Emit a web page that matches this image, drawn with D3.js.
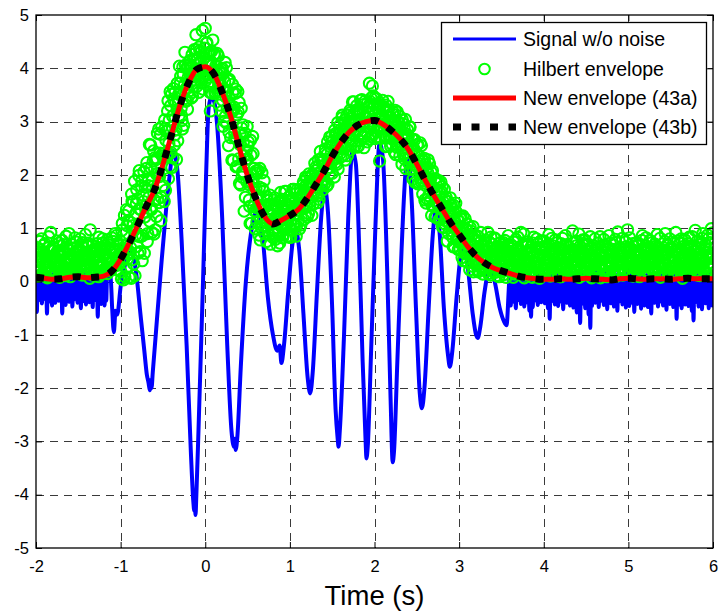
<!DOCTYPE html>
<html>
<head>
<meta charset="utf-8">
<script src="https://cdn.jsdelivr.net/npm/d3@7/dist/d3.min.js"></script>
<style>
  body { margin: 0; background: #fff; }
  svg { display: block; font-family: "Liberation Sans", Arial, sans-serif; }
</style>
</head>
<body>
<svg id="chart" width="719" height="612"></svg>
<script>
// ---- axis ticks ----
const xTicks = [-2, -1, 0, 1, 2, 3, 4, 5, 6];
const xTickLabels = ["-2", "-1", "0", "1", "2", "3", "4", "5", "6"];
const yTicks = [-5, -4, -3, -2, -1, 0, 1, 2, 3, 4, 5];
const yTickLabels = ["-5", "-4", "-3", "-2", "-1", "0", "1", "2", "3", "4", "5"];
const xTitle = "Time (s)";
const legendLabels = ["Signal w/o noise", "Hilbert envelope", "New envelope (43a)", "New envelope (43b)"];

// ---- new envelope (43a / 43b), sampled every 0.1 s from -2 s ----
const envelopeStart = -2, envelopeStep = 0.1;
const newEnvelope = [
  0.08, 0.06, 0.04, 0.05, 0.08, 0.09, 0.07, 0.08, 0.10, 0.20,
  0.42, 0.72, 1.05, 1.40, 1.72, 2.20, 2.75, 3.30, 3.72, 3.98,
  4.03, 3.90, 3.55, 3.10, 2.52, 1.98, 1.55, 1.22, 1.08, 1.15,
  1.24, 1.35, 1.55, 1.80, 2.06, 2.35, 2.60, 2.80, 2.93, 3.00,
  3.02, 2.95, 2.83, 2.68, 2.48, 2.20, 1.90, 1.62, 1.36, 1.10,
  0.88, 0.66, 0.48, 0.35, 0.26, 0.20, 0.15, 0.10, 0.07, 0.05,
  0.04, 0.04, 0.05, 0.04, 0.05, 0.06, 0.05, 0.04, 0.03, 0.05,
  0.06, 0.05, 0.04, 0.05, 0.05, 0.04, 0.05, 0.06, 0.05, 0.05,
  0.05
];

// ---- Hilbert envelope, samples at -2 s + k*0.01 s ----
const hilbertStart = -2, hilbertStep = 0.01;
const hilbertEnvelope = [
  0.40,0.17,0.63,0.27,0.75,0.46,0.13,0.55,0.33,0.68,
  0.22,0.50,0.09,0.42,0.29,0.84,0.36,0.18,0.59,0.46,
  0.64,0.31,0.48,0.14,0.40,0.56,0.24,0.72,0.08,0.35,
  0.29,0.77,0.20,0.53,0.38,0.11,0.63,0.45,0.24,0.90,
  0.52,0.16,0.37,0.69,0.24,0.46,0.82,0.33,0.57,0.20,
  0.36,0.61,0.27,0.14,0.50,0.73,0.41,0.18,0.54,0.44,
  0.28,0.66,0.15,0.43,0.97,0.31,0.58,0.12,0.47,0.24,
  0.55,0.20,0.71,0.38,0.09,0.49,0.26,0.64,0.35,0.80,
  0.30,0.62,0.19,0.52,0.78,0.25,0.44,0.68,0.21,0.57,
  0.40,0.75,0.28,0.58,0.35,0.86,0.47,0.31,0.69,0.52,
  0.61,0.05,1.09,0.43,0.89,0.09,0.68,1.35,0.42,1.14,
  0.08,1.11,0.63,1.64,0.41,1.49,0.96,0.11,1.28,1.72,
  1.55,0.85,2.08,0.56,1.35,1.89,0.86,1.50,0.53,1.77,
  1.30,2.23,0.90,1.80,2.57,1.36,2.13,0.92,1.78,2.45,
  2.32,0.97,2.02,2.30,1.55,2.86,1.97,2.76,1.58,2.39,
  1.80,2.40,3.03,1.71,2.82,2.36,3.39,2.59,2.16,3.30,
  3.51,2.90,2.32,3.39,2.75,3.35,2.29,3.72,3.37,3.11,
  3.54,3.85,3.11,2.86,3.89,3.57,4.30,3.38,4.00,3.23,
  3.84,3.50,4.15,3.75,4.04,3.47,3.93,4.35,3.78,4.63,
  3.66,4.16,3.91,4.40,3.78,4.30,4.02,3.61,4.18,4.38,
  4.75,3.90,4.48,3.69,4.06,4.30,3.20,4.04,3.53,4.53,
  3.85,4.27,3.55,3.95,4.28,3.63,3.96,3.31,3.68,3.97,
  4.00,2.91,3.61,3.75,3.10,4.01,3.25,3.77,2.80,3.33,
  2.70,3.18,3.70,2.27,3.27,2.69,3.61,2.69,2.16,3.18,
  3.36,2.57,1.81,2.88,2.06,2.61,1.32,2.78,2.29,1.87,
  2.30,2.62,1.53,1.09,2.37,1.85,2.72,1.40,2.12,0.99,
  1.74,1.12,2.09,1.37,1.77,0.78,1.43,2.04,1.05,1.70,
  0.90,1.39,1.11,1.59,0.94,1.45,1.16,0.70,1.26,1.44,
  1.33,0.96,1.57,0.79,1.17,1.43,0.91,1.21,0.72,1.67,
  1.08,1.54,0.87,1.31,1.69,1.08,1.46,0.85,1.26,1.59,
  1.52,0.83,1.34,1.47,1.08,1.73,1.27,1.65,1.05,1.44,
  1.13,1.42,1.73,1.06,1.61,1.37,1.87,1.46,1.24,1.80,
  1.94,1.60,1.27,1.86,1.50,1.83,1.24,2.02,1.83,1.67,
  1.94,2.15,1.65,1.48,2.17,1.96,2.44,1.83,2.24,1.72,
  2.17,1.83,2.49,2.09,2.39,1.82,2.28,2.71,2.14,2.60,
  2.03,2.56,2.32,2.84,2.23,2.78,2.52,2.11,2.70,2.93,
  2.85,2.50,3.12,2.36,2.76,3.03,2.52,2.84,2.36,2.98,
  2.75,3.21,2.55,2.99,3.37,2.77,3.15,2.54,2.97,3.30,
  3.23,2.54,3.04,3.17,2.78,3.41,2.95,3.32,2.72,3.11,
  2.80,3.07,3.36,2.67,3.72,2.95,3.44,3.01,2.77,3.32,
  3.44,3.06,2.71,3.27,2.89,3.19,2.26,3.30,3.06,2.88,
  3.11,3.28,2.75,2.53,3.18,2.93,3.38,2.73,3.09,2.54,
  2.95,2.57,3.18,2.74,2.99,2.38,2.79,3.18,2.56,2.98,
  2.36,2.84,2.56,3.03,2.38,2.88,2.58,2.12,2.67,2.85,
  2.73,2.33,2.90,2.10,2.45,2.67,2.11,2.38,1.86,2.43,
  2.15,2.57,1.86,2.26,2.60,1.95,2.29,1.64,2.02,2.31,
  2.20,1.47,1.94,2.04,1.61,2.21,1.71,2.05,1.42,1.77,
  1.42,1.66,1.93,1.21,1.72,1.43,1.89,1.44,1.17,1.69,
  1.78,1.38,1.01,1.54,1.14,1.41,0.76,1.50,1.25,1.05,
  1.26,1.42,0.88,0.65,1.29,1.03,1.47,0.81,1.16,0.60,
  1.00,0.61,1.22,0.76,1.01,0.39,0.80,1.18,0.55,0.96,
  0.36,0.82,0.54,1.02,0.37,0.87,0.57,0.18,0.67,0.85,
  0.62,0.30,0.85,0.21,0.53,0.74,0.26,0.58,0.14,0.66,
  0.44,0.78,0.20,0.56,0.92,0.31,0.63,0.12,0.48,0.70,
  0.35,0.59,0.17,0.80,0.41,0.25,0.66,0.09,0.52,0.73,
  0.28,0.62,0.44,0.13,0.77,0.36,0.55,0.21,0.86,0.40,
  0.47,0.19,0.68,0.33,0.08,0.57,0.26,0.79,0.40,0.15,
  0.61,0.29,0.45,0.92,0.18,0.52,0.36,0.07,0.70,0.24,
  0.39,0.74,0.13,0.55,0.30,0.65,0.21,0.48,0.83,0.34,
  0.11,0.58,0.27,0.71,0.42,0.06,0.50,0.31,0.64,0.23,
  0.76,0.35,0.16,0.60,0.44,0.25,0.88,0.38,0.10,0.53,
  0.28,0.67,0.41,0.14,0.56,0.32,0.73,0.20,0.47,0.62,
  0.09,0.43,0.81,0.26,0.59,0.37,0.17,0.69,0.30,0.50,
  0.64,0.22,0.49,0.34,0.95,0.40,0.12,0.57,0.27,0.75,
  0.33,0.54,0.08,0.66,0.21,0.45,0.78,0.29,0.51,0.16,
  0.70,0.38,0.24,0.58,0.13,0.84,0.42,0.31,0.63,0.19,
  0.46,0.11,0.61,0.36,0.72,0.25,0.53,0.07,0.44,0.67,
  0.23,0.79,0.32,0.50,0.15,0.60,0.39,0.86,0.27,0.48,
  0.57,0.30,0.69,0.18,0.43,0.74,0.10,0.52,0.35,0.62,
  0.14,0.48,0.26,0.81,0.37,0.56,0.22,0.65,0.41,0.97,
  0.38,0.63,0.19,0.45,0.29,0.71,0.51,0.12,0.58,0.33,
  0.68,0.24,0.54,0.09,0.47,0.36,0.77,0.28,0.60,0.42,
  0.31,0.82,0.40,0.20,0.64,0.13,0.55,0.44,0.73,0.25,
  0.52,0.17,0.66,0.39,0.88,0.27,0.46,0.61,0.08,0.49,
  0.26,0.59,0.34,0.75,0.14,0.50,0.69,0.21,0.43,0.80,
  0.62,0.11,0.47,0.28,0.57,0.38,0.92,0.32,0.16,0.54,
  0.43,0.71,0.25,0.60,0.06,0.49,0.35,0.78,0.27,0.65,
  0.18,0.52,0.83,0.30,0.45,0.67,0.22,0.56,0.39,0.96,
  0.58,0.34,0.12,0.63,0.41,0.27,0.74,0.48,0.90,0.20,
  0.37,0.69,0.46,0.15,0.55,0.81,0.29,0.62,0.99,0.44,
  0.52
];

// ---- Hilbert envelope, in-between samples at -1.995 s + k*0.01 s ----
const hilbertMidStart = -1.995;
const hilbertEnvelopeMid = [
  0.26,0.52,0.10,0.61,0.37,0.21,0.80,0.43,0.15,0.56,
  0.71,0.34,0.49,0.07,0.63,0.28,0.45,0.92,0.19,0.40,
  0.32,0.58,0.16,0.44,0.76,0.25,0.53,0.11,0.67,0.30,
  0.48,0.13,0.69,0.35,0.22,0.85,0.41,0.17,0.59,0.38,
  0.09,0.44,0.27,0.62,0.51,0.18,0.36,0.74,0.29,0.66,
  0.57,0.23,0.80,0.42,0.12,0.64,0.31,0.49,0.88,0.21,
  0.40,0.72,0.34,0.06,0.55,0.25,0.68,0.45,0.19,0.61,
  0.16,0.47,0.60,0.27,0.83,0.39,0.13,0.57,0.72,0.33,
  0.50,0.24,0.67,0.41,0.15,0.73,0.36,0.58,0.27,0.82,
  0.63,0.29,0.51,0.90,0.38,0.22,0.70,0.45,0.33,0.76,
  0.18,0.96,0.61,0.03,1.24,0.57,0.25,1.05,0.53,1.33,
  1.12,0.55,0.06,1.50,1.05,0.33,1.88,0.87,1.46,0.66,
  0.53,1.99,1.36,0.84,1.79,0.39,1.62,2.06,1.21,1.41,
  2.12,0.75,1.90,1.58,1.13,2.56,1.35,1.90,2.26,0.89,
  1.52,2.29,1.22,2.78,2.03,1.48,2.41,1.14,2.90,2.35,
  2.32,1.50,2.87,2.65,2.34,3.20,1.93,3.03,3.56,2.42,
  2.14,3.10,3.62,2.56,3.55,2.85,3.22,2.64,3.51,4.04,
  3.72,3.25,3.02,4.03,2.93,3.69,4.06,3.62,3.40,4.04,
  3.57,4.07,3.85,3.44,4.26,3.85,3.66,4.16,3.85,4.35,
  4.18,3.89,3.55,4.33,4.10,3.73,4.71,3.99,4.27,3.85,
  3.77,4.47,4.12,3.83,4.28,3.55,4.13,4.32,3.87,3.93,
  4.26,3.53,4.05,3.84,3.56,4.23,3.57,3.80,3.92,3.19,
  3.40,3.90,3.01,4.11,3.46,2.97,3.58,2.55,3.79,3.30,
  3.22,2.28,3.54,3.21,2.79,3.53,2.15,3.13,3.56,2.30,
  1.84,2.79,3.25,1.96,2.94,2.05,2.36,1.58,2.45,2.91,
  2.54,1.82,1.41,2.65,1.09,2.01,2.40,1.72,1.32,2.07,
  1.31,2.03,1.61,0.87,2.12,1.39,1.00,1.74,1.16,1.89,
  1.42,1.11,0.75,1.52,1.26,0.87,1.62,1.08,1.35,0.91,
  0.82,1.53,1.20,0.93,1.39,0.67,1.28,1.48,1.05,1.14,
  1.51,0.82,1.38,1.21,0.98,1.69,1.08,1.35,1.52,0.83,
  1.14,1.51,0.96,1.73,1.34,1.05,1.50,0.85,1.72,1.44,
  1.41,0.99,1.67,1.55,1.39,1.81,1.16,1.70,1.96,1.39,
  1.21,1.74,2.02,1.43,1.97,1.58,1.78,1.45,1.93,2.22,
  2.08,1.77,1.61,2.28,1.54,2.05,2.30,2.00,1.85,2.27,
  1.91,2.41,2.20,1.79,2.62,2.21,2.02,2.53,2.22,2.73,
  2.55,2.28,1.96,2.77,2.55,2.20,2.98,2.49,2.79,2.40,
  2.34,3.07,2.76,2.50,2.98,2.28,2.90,3.12,2.70,2.80,
  3.16,2.47,3.05,2.88,2.65,3.37,2.76,3.03,3.21,2.52,
  2.83,3.19,2.64,3.40,3.00,2.71,3.17,2.51,3.38,3.09,
  3.06,2.62,3.28,3.14,2.97,3.37,2.71,3.67,3.48,2.88,
  2.68,3.17,3.43,2.81,3.32,2.90,3.07,2.69,3.14,3.40,
  3.23,2.88,2.69,3.31,2.54,3.01,3.22,2.89,2.69,3.08,
  2.68,3.14,2.88,2.43,3.21,2.76,2.52,2.99,2.63,3.10,
  2.88,2.56,2.20,2.96,2.70,2.30,3.04,2.50,2.76,2.32,
  2.22,2.90,2.54,2.24,2.67,1.92,2.49,2.66,2.20,2.25,
  2.56,1.83,2.36,2.15,1.88,2.55,1.90,2.13,2.26,1.53,
  1.80,2.13,1.54,2.28,1.85,1.52,1.93,1.24,2.08,1.75,
  1.68,1.21,1.85,1.68,1.48,1.85,1.16,1.66,1.87,1.25,
  1.02,1.49,1.73,1.08,1.58,1.13,1.28,0.90,1.33,1.57,
  1.38,1.02,0.82,1.43,0.65,1.11,1.31,0.97,0.76,1.14,
  0.73,1.18,0.92,0.45,1.23,0.77,0.53,0.99,0.62,1.08,
  0.86,0.54,0.22,0.95,0.69,0.29,1.03,0.49,0.76,0.32,
  0.41,0.77,0.18,0.60,0.35,0.92,0.47,0.24,0.70,0.39,
  0.58,0.25,0.66,0.38,0.15,0.74,0.29,0.83,0.42,0.19,
  0.47,0.82,0.30,0.62,0.11,0.55,0.36,0.71,0.23,0.64,
  0.18,0.51,0.73,0.32,0.60,0.08,0.45,0.69,0.26,0.57,
  0.30,0.62,0.22,0.51,0.74,0.14,0.45,0.60,0.27,0.83,
  0.42,0.16,0.57,0.34,0.68,0.25,0.89,0.40,0.12,0.53,
  0.66,0.24,0.43,0.19,0.59,0.37,0.08,0.72,0.46,0.28,
  0.35,0.80,0.48,0.21,0.62,0.30,0.76,0.15,0.54,0.41,
  0.20,0.49,0.64,0.31,0.13,0.70,0.42,0.56,0.26,0.81,
  0.55,0.12,0.36,0.78,0.27,0.46,0.19,0.63,0.39,0.09,
  0.71,0.33,0.58,0.22,0.44,0.86,0.29,0.52,0.14,0.65,
  0.25,0.47,0.17,0.60,0.36,0.73,0.48,0.20,0.67,0.38,
  0.52,0.89,0.41,0.27,0.63,0.11,0.55,0.35,0.78,0.44,
  0.17,0.56,0.70,0.39,0.28,0.61,0.07,0.49,0.23,0.58,
  0.80,0.32,0.44,0.19,0.65,0.40,0.84,0.30,0.57,0.13,
  0.46,0.21,0.68,0.55,0.09,0.37,0.62,0.18,0.72,0.34,
  0.27,0.60,0.14,0.44,0.79,0.31,0.53,0.93,0.22,0.48,
  0.63,0.36,0.55,0.12,0.48,0.20,0.74,0.39,0.58,0.16,
  0.44,0.82,0.28,0.61,0.35,0.10,0.66,0.24,0.50,0.73,
  0.19,0.47,0.71,0.33,0.58,0.25,0.86,0.42,0.13,0.55,
  0.67,0.28,0.51,0.16,0.40,0.77,0.33,0.62,0.21,0.46,
  0.35,0.70,0.22,0.57,0.13,0.64,0.38,0.81,0.47,0.26,
  0.59,0.15,0.45,0.90,0.31,0.55,0.20,0.68,0.37,0.12,
  0.24,0.63,0.36,0.72,0.48,0.17,0.59,0.29,0.76,0.41,
  0.52,0.28,0.80,0.39,0.21,0.66,0.44,0.14,0.58,0.33,
  0.71,0.37,0.15,0.61,0.26,0.84,0.48,0.31,0.64,0.20,
  0.29,0.76,0.43,0.54,0.11,0.69,0.35,0.81,0.25,0.57,
  0.62,0.18,0.50,0.87,0.34,0.45,0.73,0.23,0.48,0.91
];

// ---- signal: quiet lead-in, sampled every 0.01 s from -2 s ----
const signalLeadStart = -2, signalStep = 0.01;
const signalLead = [
  0.15,-0.57,0.08,-0.35,0.18,-0.22,0.05,-0.41,0.12,-0.28,
  0.20,-0.33,0.02,-0.60,0.10,-0.25,0.16,-0.38,0.07,-0.45,
  0.13,-0.30,0.22,-0.40,0.04,-0.19,0.11,-0.36,0.17,-0.27,
  0.06,-0.60,0.14,-0.32,0.09,-0.44,0.19,-0.21,0.03,-0.38,
  0.15,-0.29,0.08,-0.47,0.20,-0.34,0.10,-0.24,0.05,-0.40,
  0.17,-0.31,0.12,-0.50,0.06,-0.27,0.21,-0.37,0.09,-0.43,
  0.14,-0.23,0.04,-0.39,0.18,-0.30,0.11,-0.48,0.07,-0.35,
  0.16,-0.26,0.10,-0.66,0.13,-0.33,0.05,-0.42,0.20,-0.28,
  0.12,-0.45,0.08,-0.36,0.15
];

// ---- signal: oscillating burst, turning points (time, value) ----
const signalBurstTime = [
  -1.12,-1.10,-1.08,-1.06,-1.04,-1.00,-0.95,-0.88,-0.82,-0.76,
  -0.72,-0.69,-0.67,-0.655,-0.645,-0.635,-0.62,-0.58,-0.52,-0.46,
  -0.42,-0.38,-0.33,-0.28,-0.22,-0.17,-0.14,-0.13,-0.125,-0.115,
  -0.105,-0.08,-0.03,0.01,0.04,0.07,0.10,0.14,0.20,0.26,
  0.31,0.34,0.35,0.36,0.38,0.42,0.48,0.55,0.62,0.68,
  0.74,0.80,0.85,0.88,0.90,0.93,0.98,1.03,1.07,1.11,
  1.16,1.21,1.24,1.27,1.32,1.37,1.41,1.45,1.50,1.54,
  1.565,1.575,1.59,1.64,1.69,1.74,1.78,1.82,1.86,1.895,
  1.905,1.92,1.96,2.01,2.06,2.10,2.15,2.19,2.215,2.23,
  2.27,2.32,2.37,2.40,2.44,2.49,2.535,2.56,2.59,2.64,
  2.69,2.73,2.77,2.82,2.87,2.89,2.92,2.97,3.02,3.06,
  3.10,3.16,3.20,3.22,3.25,3.30,3.36,3.42,3.48,3.53,
  3.56
];
const signalBurstValue = [
  0.12,-0.5,-0.95,-0.55,-0.62,-0.1,0.3,0.55,0.2,-0.7,
  -1.3,-1.75,-1.9,-2.04,-1.85,-2.0,-1.7,-0.9,0.3,1.4,
  2.0,2.45,2.1,0.8,-1.2,-3.2,-4.15,-4.3,-4.1,-4.38,
  -4.0,-2.8,-0.2,2.0,3.25,3.45,3.4,2.95,1.2,-1.2,
  -2.8,-3.1,-2.95,-3.16,-2.9,-1.6,0.0,1.0,1.35,0.8,
  -0.3,-1.0,-1.3,-1.2,-1.53,-1.2,-0.2,0.7,0.95,0.6,
  -0.6,-1.8,-2.1,-1.7,-0.2,1.2,1.75,1.3,-0.5,-2.4,
  -2.95,-3.1,-2.8,-1.0,1.2,2.45,2.2,0.6,-1.5,-3.0,
  -3.32,-3.1,-1.3,1.0,2.6,2.3,0.2,-2.2,-3.39,-3.2,
  -1.5,0.6,2.1,2.3,1.5,-0.5,-2.1,-2.38,-2.0,-0.5,
  0.9,1.4,0.9,-0.5,-1.4,-1.6,-1.3,-0.3,0.5,0.65,
  0.3,-0.6,-1.0,-1.06,-0.85,-0.2,0.25,0.0,-0.5,-0.75,
  -0.82
];

// ---- signal: quiet tail, sampled every 0.01 s from 3.6 s ----
const signalTailStart = 3.6;
const signalTail = [
  0.10,-0.45,0.05,-0.30,0.15,-0.38,0.02,-0.50,0.08,-0.28,
  0.12,-0.35,0.04,-0.42,0.16,-0.25,0.07,-0.47,0.10,-0.33,
  0.05,-0.40,0.13,-0.55,0.02,-0.66,0.09,-0.48,0.03,-0.36,
  0.14,-0.29,0.06,-0.44,0.18,-0.31,0.08,-0.39,0.11,-0.26,
  0.04,-0.41,0.15,-0.34,0.07,-0.50,0.12,-0.70,0.03,-0.37,
  0.17,-0.27,0.09,-0.43,0.05,-0.32,0.14,-0.46,0.08,-0.24,
  0.11,-0.38,0.02,-0.52,0.16,-0.30,0.06,-0.40,0.13,-0.35,
  0.07,-0.45,0.18,-0.28,0.04,-0.49,0.10,-0.33,0.15,-0.58,
  0.06,-0.36,0.12,-0.78,0.03,-0.42,0.14,-0.30,0.08,-0.50,
  0.16,-0.34,0.05,-0.62,0.11,-0.87,0.02,-0.46,0.13,-0.29,
  0.09,-0.40,0.17,-0.31,0.04,-0.48,0.12,-0.37,0.07,-0.26,
  0.14,-0.44,0.06,-0.33,0.19,-0.52,0.10,-0.28,0.03,-0.41,
  0.15,-0.35,0.08,-0.47,0.12,-0.30,0.05,-0.55,0.16,-0.38,
  0.07,-0.27,0.13,-0.43,0.02,-0.36,0.18,-0.49,0.09,-0.32,
  0.11,-0.46,0.04,-0.29,0.15,-0.40,0.08,-0.57,0.13,-0.34,
  0.06,-0.42,0.17,-0.30,0.10,-0.51,0.03,-0.37,0.14,-0.45,
  0.08,-0.28,0.12,-0.48,0.05,-0.35,0.16,-0.60,0.09,-0.31,
  0.14,-0.40,0.07,-0.33,0.11,-0.47,0.02,-0.38,0.18,-0.26,
  0.10,-0.45,0.05,-0.36,0.15,-0.53,0.08,-0.29,0.12,-0.42,
  0.04,-0.34,0.16,-0.48,0.09,-0.31,0.13,-0.70,0.06,-0.44,
  0.17,-0.37,0.08,-0.50,0.12,-0.28,0.03,-0.43,0.14,-0.35,
  0.07,-0.46,0.15,-0.32,0.10,-0.55,0.05,-0.73,0.11,-0.39,
  0.16,-0.30,0.04,-0.47,0.13,-0.36,0.08,-0.52,0.18,-0.34,
  0.09,-0.41,0.12,-0.29,0.06,-0.50,0.15,-0.38,0.03,-0.45,
  0.10
];

// ---- build point series ----
const signalPoints = [
  ...signalLead.map((v, i) => ({ t: signalLeadStart + i * signalStep, v })),
  ...signalBurstTime.map((t, i) => ({ t, v: signalBurstValue[i] })),
  ...signalTail.map((v, i) => ({ t: signalTailStart + i * signalStep, v }))
];
const hilbertPoints = [
  ...hilbertEnvelope.map((v, i) => ({ t: hilbertStart + i * hilbertStep, v })),
  ...hilbertEnvelopeMid.map((v, i) => ({ t: hilbertMidStart + i * hilbertStep, v }))
].sort((a, b) => a.t - b.t);
const envelopePoints = newEnvelope.map((v, i) => ({ t: envelopeStart + i * envelopeStep, v }));

// ---- layout ----
const svg = d3.select("#chart");
const plot = { left: 36, right: 713, top: 15, bottom: 548 };
const x = d3.scaleLinear().domain([-2, 6]).range([plot.left, plot.right]);
const y = d3.scaleLinear().domain([-5, 5]).range([plot.bottom, plot.top]);

svg.append("rect").attr("width", 719).attr("height", 612).attr("fill", "#fff");

svg.append("defs").append("clipPath").attr("id", "plotClip")
  .append("rect")
  .attr("x", plot.left).attr("y", plot.top)
  .attr("width", plot.right - plot.left).attr("height", plot.bottom - plot.top);

// grid
const grid = svg.append("g").attr("stroke", "#3a3a3a").attr("stroke-width", 1)
  .attr("stroke-dasharray", "8,6").attr("shape-rendering", "crispEdges");
grid.selectAll("line.gx").data(xTicks.slice(1, -1)).join("line")
  .attr("x1", d => Math.round(x(d)) + 0.5).attr("x2", d => Math.round(x(d)) + 0.5)
  .attr("y1", plot.top).attr("y2", plot.bottom);
grid.selectAll("line.gy").data(yTicks.slice(1, -1)).join("line")
  .attr("y1", d => Math.round(y(d)) + 0.5).attr("y2", d => Math.round(y(d)) + 0.5)
  .attr("x1", plot.left).attr("x2", plot.right);

// data layer
const data = svg.append("g").attr("clip-path", "url(#plotClip)");

data.append("path").datum(signalPoints)
  .attr("fill", "none").attr("stroke", "#0000ff").attr("stroke-width", 4)
  .attr("stroke-linejoin", "round")
  .attr("d", d3.line().x(d => x(d.t)).y(d => y(d.v)).curve(d3.curveMonotoneX));

data.append("g").selectAll("circle").data(hilbertPoints).join("circle")
  .attr("cx", d => x(d.t)).attr("cy", d => y(d.v)).attr("r", 5.6)
  .attr("fill", "none").attr("stroke", "#00ff00").attr("stroke-width", 2.1);

const envLine = d3.line().x(d => x(d.t)).y(d => y(d.v)).curve(d3.curveMonotoneX);
data.append("path").datum(envelopePoints)
  .attr("fill", "none").attr("stroke", "#ff0000").attr("stroke-width", 5)
  .attr("d", envLine);
data.append("path").datum(envelopePoints)
  .attr("fill", "none").attr("stroke", "#000").attr("stroke-width", 7)
  .attr("stroke-dasharray", "8,10.5")
  .attr("d", envLine);

// axes with inward ticks on all four sides
const tickLen = 6;
const axisBottom = d3.axisBottom(x).tickValues(xTicks)
  .tickFormat((d, i) => xTickLabels[i]).tickSizeInner(-tickLen).tickSizeOuter(0).tickPadding(12);
const axisLeft = d3.axisLeft(y).tickValues(yTicks)
  .tickFormat((d, i) => yTickLabels[i]).tickSizeInner(-tickLen).tickSizeOuter(0).tickPadding(7);
const axisTop = d3.axisTop(x).tickValues(xTicks).tickFormat("").tickSizeInner(-tickLen).tickSizeOuter(0);
const axisRight = d3.axisRight(y).tickValues(yTicks).tickFormat("").tickSizeInner(-tickLen).tickSizeOuter(0);

function styleAxis(g) {
  g.select(".domain").remove();
  g.selectAll(".tick line").attr("stroke", "#000").attr("stroke-width", 1);
  g.selectAll(".tick text").attr("fill", "#000")
    .style("font-family", '"Liberation Sans", Arial, sans-serif').style("font-size", "16.5px");
}
svg.append("g").attr("transform", `translate(0,${plot.bottom})`).call(axisBottom).call(styleAxis);
svg.append("g").attr("transform", `translate(${plot.left},0)`).call(axisLeft).call(styleAxis);
svg.append("g").attr("transform", `translate(0,${plot.top})`).call(axisTop).call(styleAxis);
svg.append("g").attr("transform", `translate(${plot.right},0)`).call(axisRight).call(styleAxis);

svg.append("rect")
  .attr("x", plot.left).attr("y", plot.top)
  .attr("width", plot.right - plot.left).attr("height", plot.bottom - plot.top)
  .attr("fill", "none").attr("stroke", "#000").attr("stroke-width", 1.3);

svg.append("text")
  .attr("x", (plot.left + plot.right) / 2).attr("y", 605)
  .attr("text-anchor", "middle").style("font-size", "27.5px").attr("fill", "#000")
  .text(xTitle);

// legend
const legend = svg.append("g");
legend.append("rect").attr("x", 441.5).attr("y", 22.5).attr("width", 265).attr("height", 122)
  .attr("fill", "#fff").attr("stroke", "#000").attr("stroke-width", 1.3);
const rowY = [39, 69, 98, 127];
const sx0 = 453, sx1 = 516, textX = 523;
legend.append("line").attr("x1", sx0).attr("x2", sx1).attr("y1", rowY[0]).attr("y2", rowY[0])
  .attr("stroke", "#0000ff").attr("stroke-width", 3);
legend.append("circle").attr("cx", (sx0 + sx1) / 2).attr("cy", rowY[1]).attr("r", 5.3)
  .attr("fill", "none").attr("stroke", "#00ff00").attr("stroke-width", 2);
legend.append("line").attr("x1", sx0).attr("x2", sx1).attr("y1", rowY[2]).attr("y2", rowY[2])
  .attr("stroke", "#ff0000").attr("stroke-width", 5);
legend.append("line").attr("x1", sx0).attr("x2", sx1).attr("y1", rowY[3]).attr("y2", rowY[3])
  .attr("stroke", "#000").attr("stroke-width", 7).attr("stroke-dasharray", "8,10.5");
legend.selectAll("text").data(legendLabels).join("text")
  .attr("x", textX).attr("y", (d, i) => rowY[i]).attr("dy", "0.35em")
  .style("font-size", "19.5px").attr("fill", "#000")
  .text(d => d);
</script>
</body>
</html>
